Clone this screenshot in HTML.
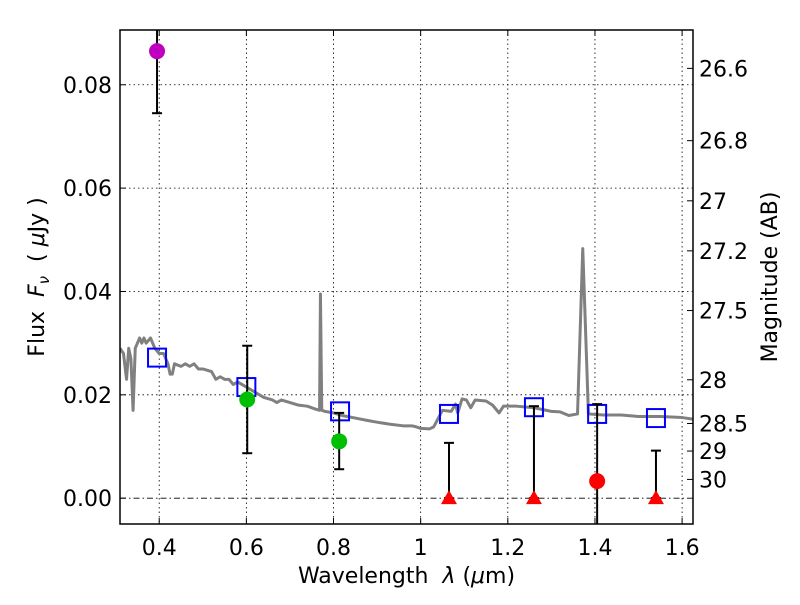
<!DOCTYPE html>
<html><head><meta charset="utf-8"><style>
body{margin:0;background:#fff}
svg text{font-family:"DejaVu Sans","Liberation Sans",sans-serif;fill:#000}
</style></head><body>
<svg id="chart" width="800" height="600" xmlns="http://www.w3.org/2000/svg">
<rect width="800" height="600" fill="#fff"/>
<g id="grid"></g>
<g id="spec"></g>
<g id="marks"></g>
<g id="axes"></g>
</svg>
<script>
const xTicks=[0.4,0.6,0.8,1.0,1.2,1.4,1.6];
const xTickLabels=["0.4","0.6","0.8","1","1.2","1.4","1.6"];
const yTicks=[0,0.02,0.04,0.06,0.08];
const yTickLabels=["0.00","0.02","0.04","0.06","0.08"];
const magTicks=[26.6,26.8,27,27.2,27.5,28,28.5,29,30];
const magTickLabels=["26.6","26.8","27","27.2","27.5","28","28.5","29","30"];
const specWave=[0.31,0.318,0.325,0.33,0.335,0.34,0.345,0.355,0.36,0.365,0.37,0.38,0.39,0.40,0.41,0.42,0.425,0.43,0.435,0.45,0.46,0.47,0.48,0.49,0.50,0.52,0.53,0.54,0.55,0.56,0.57,0.58,0.6,0.62,0.64,0.66,0.67,0.68,0.70,0.72,0.74,0.76,0.768,0.770,0.773,0.78,0.8,0.82,0.85,0.88,0.9,0.93,0.96,0.98,0.99,1.0,1.02,1.03,1.05,1.07,1.08,1.085,1.095,1.105,1.115,1.125,1.15,1.165,1.18,1.19,1.22,1.26,1.3,1.32,1.34,1.36,1.372,1.385,1.42,1.46,1.5,1.55,1.6,1.625];
const specFlux=[0.029,0.028,0.023,0.029,0.027,0.017,0.029,0.031,0.030,0.031,0.030,0.031,0.029,0.028,0.028,0.026,0.024,0.024,0.026,0.0255,0.026,0.0255,0.026,0.025,0.025,0.0245,0.023,0.0235,0.023,0.023,0.022,0.0225,0.0215,0.0205,0.0195,0.019,0.0185,0.019,0.0185,0.018,0.0178,0.0172,0.017,0.0395,0.017,0.0168,0.0165,0.016,0.0155,0.015,0.0147,0.0143,0.014,0.014,0.0138,0.0135,0.0134,0.0138,0.017,0.0168,0.0182,0.0165,0.0192,0.019,0.0175,0.019,0.0188,0.018,0.0165,0.0178,0.0178,0.0175,0.0168,0.0167,0.016,0.0163,0.0483,0.0163,0.0161,0.0161,0.0158,0.0158,0.0156,0.0153];
const modelWave=[0.395,0.6,0.815,1.065,1.26,1.405,1.54];
const modelFlux=[0.0272,0.0215,0.0168,0.0163,0.0176,0.0163,0.0155];
const obsWave=[0.395,0.602,0.813,1.065,1.26,1.405,1.54];
const obsFlux=[0.0865,0.0191,0.011,0,0,0.0033,0];
const obsLo=[0.0745,0.0087,0.0056,0,0,-0.01,0];
const obsHi=[0.1,0.0295,0.0165,0.0107,0.0178,0.0182,0.0092];
const obsKind=["circle","circle","circle","tri","tri","circle","tri"];
const obsColor=["#bf00bf","#00bf00","#00bf00","#ff0000","#ff0000","#ff0000","#ff0000"];

const L=120,R=693,T=30,B=524,X0=0.31,X1=1.625,Y0=-0.005,Y1=0.0906;
const sx=v=>L+(v-X0)/(X1-X0)*(R-L);
const sy=v=>B-(v-Y0)/(Y1-Y0)*(B-T);
const magToFlux=m=>Math.pow(10,(23.9-m)/2.5);
const NS="http://www.w3.org/2000/svg";
function mk(tag,attrs,parent){const e=document.createElementNS(NS,tag);for(const k in attrs)e.setAttribute(k,attrs[k]);parent.appendChild(e);return e;}
const grid=document.getElementById('grid'),spec=document.getElementById('spec'),marks=document.getElementById('marks'),axes=document.getElementById('axes');
const defs=mk('defs',{},document.getElementById('chart'));
const cp=mk('clipPath',{id:'clip'},defs);mk('rect',{x:L,y:T,width:R-L,height:B-T},cp);
spec.setAttribute('clip-path','url(#clip)');marks.setAttribute('clip-path','url(#clip)');

xTicks.forEach((v,i)=>{
  const x=sx(v);
  const g=mk('line',{x1:x,x2:x,y1:T,y2:B,stroke:'#000','stroke-width':0.8,'stroke-dasharray':'1.5,3'},grid);
  
  const t=mk('line',{x1:x,x2:x,y1:B,y2:B-6,stroke:'#000'},axes);
  
  const t2=mk('line',{x1:x,x2:x,y1:T,y2:T+6,stroke:'#000'},axes);
  
  const lb=mk('text',{x:x,y:B+31,'text-anchor':'middle','font-size':22},axes);lb.textContent=xTickLabels[i];
  
});
yTicks.forEach((v,i)=>{
  const y=sy(v);
  const g=mk('line',{x1:L,x2:R,y1:y,y2:y,stroke:'#000','stroke-width':0.8,'stroke-dasharray':v===0?'6,3,1.5,3':'1.5,3'},grid);
  
  const t=mk('line',{x1:L,x2:L+6,y1:y,y2:y,stroke:'#000'},axes);
  
  const lb=mk('text',{x:L-8,y:y+8,'text-anchor':'end','font-size':22},axes);lb.textContent=yTickLabels[i];
  
});
magTicks.forEach((m,i)=>{
  const y=sy(magToFlux(m));
  const t=mk('line',{x1:R-6,x2:R,y1:y,y2:y,stroke:'#000'},axes);
  
  const lb=mk('text',{x:R+6,y:y+8,'font-size':22},axes);lb.textContent=magTickLabels[i];
  
});
const pl=mk('polyline',{points:specWave.map((w,i)=>sx(w)+','+sy(specFlux[i])).join(' '),fill:'none',stroke:'#808080','stroke-width':3,'stroke-linejoin':'round'},spec);

modelWave.forEach((w,i)=>{
  const s=mk('rect',{x:sx(w)-9,y:sy(modelFlux[i])-9,width:18,height:18,fill:'none',stroke:'#0000ff','stroke-width':2},marks);
  
});
obsWave.forEach((w,i)=>{
  const x=sx(w);
  const e=mk('line',{x1:x,x2:x,y1:sy(obsLo[i]),y2:sy(obsHi[i]),stroke:'#000','stroke-width':2},marks);
  
  [obsLo[i],obsHi[i]].forEach(v=>{const c=mk('line',{x1:x-5,x2:x+5,y1:sy(v),y2:sy(v),stroke:'#000','stroke-width':2},marks);
    });
  const y=sy(obsFlux[i]);
  let m;
  if(obsKind[i]==='circle'){m=mk('circle',{cx:x,cy:y,r:8,fill:obsColor[i]},marks);}
  else{m=mk('polygon',{points:`${x},${y-8} ${x-8},${y+6} ${x+8},${y+6}`,fill:obsColor[i]},marks);}
  
});
const frame=mk('rect',{x:L,y:T,width:R-L,height:B-T,fill:'none',stroke:'#000','stroke-width':1.5},axes);

const xt=mk('text',{x:(L+R)/2,y:583,'text-anchor':'middle','font-size':22},axes);
xt.innerHTML='Wavelength&#160;&#160;<tspan font-style="italic">λ</tspan> (<tspan font-style="italic">μ</tspan>m)';

const yt=mk('text',{x:0,y:0,'text-anchor':'middle','font-size':22,transform:`translate(44,${(T+B)/2}) rotate(-90)`},axes);
yt.innerHTML='Flux&#160;&#160;<tspan font-style="italic">F</tspan><tspan font-style="italic" font-size="15" dy="5">ν</tspan><tspan dy="-5">&#160;&#160;( </tspan><tspan font-style="italic">μ</tspan>Jy )';

const rt=mk('text',{x:0,y:0,'text-anchor':'middle','font-size':22,transform:`translate(777,${(T+B)/2}) rotate(-90)`},axes);
rt.textContent='Magnitude (AB)';

</script>
</body></html>
